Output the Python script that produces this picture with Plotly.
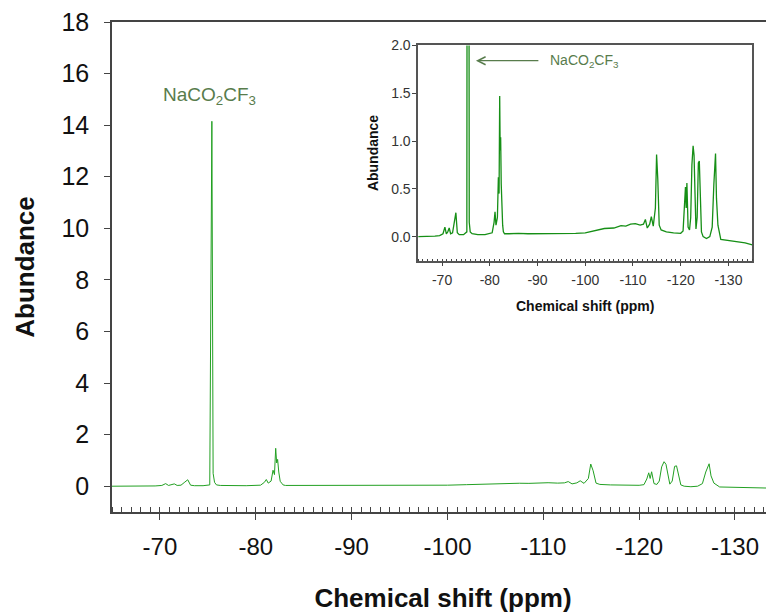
import plotly.graph_objects as go

# Chemical shift (ppm) and abundance
shift_ppm = [-65.0, -67.0, -68.5, -69.5, -70.2, -70.6, -70.9, -71.2, -71.5, -71.8,
             -72.2, -72.6, -72.9, -73.2, -73.6, -74.5, -75.2, -75.42, -75.55, -75.7,
             -75.9, -76.3, -77.5, -79.0, -80.5, -80.9, -81.1, -81.3, -81.6, -81.8,
             -81.95, -82.08, -82.18, -82.28, -82.4, -82.55, -82.7, -82.85, -83.1, -84.0,
             -86.0, -88.0, -90.0, -92.0, -94.0, -96.0, -98.0, -100.0, -102.0, -104.0,
             -106.0, -107.5, -108.5, -109.5, -110.5, -111.5, -112.2, -112.6, -113.0, -113.5,
             -113.85, -114.25, -114.7, -114.95, -115.2, -115.5, -115.9, -117.0, -118.5, -120.0,
             -120.5, -120.8, -121.0, -121.15, -121.3, -121.55, -121.85, -122.1, -122.35, -122.6,
             -122.8, -123.0, -123.2, -123.45, -123.7, -123.9, -124.1, -124.35, -124.7, -125.4,
             -126.1, -126.6, -126.95, -127.3, -127.5, -127.8, -128.4, -130.0, -132.0, -133.5,
             -135.0]
abundance = [0.0, 0.0, 0.005, 0.01, 0.03, 0.10, 0.03, 0.05, 0.09, 0.03,
             0.04, 0.16, 0.25, 0.04, 0.02, 0.02, 0.05, 14.15, 0.5, 0.15,
             0.05, 0.03, 0.02, 0.02, 0.04, 0.15, 0.26, 0.12, 0.2, 0.62,
             0.45, 1.47, 0.9, 1.04, 0.55, 0.19, 0.12, 0.05, 0.03, 0.03,
             0.035, 0.03, 0.03, 0.03, 0.03, 0.03, 0.035, 0.04, 0.06, 0.085,
             0.09, 0.115, 0.11, 0.13, 0.135, 0.12, 0.13, 0.18, 0.09, 0.13,
             0.21, 0.11, 0.3, 0.86, 0.6, 0.12, 0.07, 0.05, 0.04, 0.035,
             0.06, 0.28, 0.52, 0.3, 0.56, 0.1, 0.07, 0.2, 0.75, 0.95,
             0.85, 0.45, 0.08, 0.2, 0.77, 0.79, 0.5, 0.05, 0.0, -0.02,
             0.0, 0.1, 0.55, 0.87, 0.4, 0.12, -0.03, -0.04, -0.05, -0.065,
             -0.085]

main_y_ticks = [0, 2, 4, 6, 8, 10, 12, 14, 16, 18]
x_ticks = [-70, -80, -90, -100, -110, -120, -130]
x_tick_labels = ["-70", "-80", "-90", "-100", "-110", "-120", "-130"]
inset_y_ticks = [0.0, 0.5, 1.0, 1.5, 2.0]
inset_y_labels = ["0.0", "0.5", "1.0", "1.5", "2.0"]
label_text = "NaCO<sub>2</sub>CF<sub>3</sub>"

FONT = "Liberation Sans, Arial, sans-serif"
AXIS_COL = "#444444"
TEXT_GREEN = "#587c4c"

fig = go.Figure()
fig.add_trace(go.Scatter(x=shift_ppm, y=abundance, mode="lines",
                         line=dict(color="#22a022", width=1), showlegend=False,
                         xaxis="x", yaxis="y"))
fig.add_trace(go.Scatter(x=shift_ppm, y=abundance, mode="lines",
                         line=dict(color="#168f16", width=1.3), showlegend=False,
                         xaxis="x2", yaxis="y2"))

# The page body adds an 8px offset, so the figure is sized to fit the window.
fig.update_layout(
    width=766, height=608,
    margin=dict(l=104, r=0, t=14, b=104, autoexpand=False),
    paper_bgcolor="white", plot_bgcolor="white",
    font=dict(family=FONT, color="#111111"),
    xaxis=dict(
        domain=[0, 1], range=[-65, -134.07], automargin=False,
        tickvals=x_ticks, ticktext=x_tick_labels,
        ticks="outside", ticklen=6, tickwidth=1.2, tickcolor=AXIS_COL,
        minor=dict(dtick=1, tick0=-70, ticks="inside", ticklen=5, tickwidth=1, tickcolor=AXIS_COL, showgrid=False),
        showline=True, linecolor=AXIS_COL, linewidth=1.5, mirror=True,
        showgrid=False, zeroline=False, ticklabeloverflow="allow",
        tickfont=dict(size=24, family=FONT), ticklabelstandoff=6,
        title=dict(text="<b>Chemical shift (ppm)</b>", font=dict(size=26, family=FONT), standoff=30),
    ),
    yaxis=dict(
        domain=[0, 1], range=[-1, 18], automargin=False,
        tickvals=main_y_ticks, ticks="outside", ticklen=6, tickwidth=1.2, tickcolor=AXIS_COL,
        showline=True, linecolor=AXIS_COL, linewidth=1.5, mirror=False,
        showgrid=False, zeroline=False, ticklabeloverflow="allow",
        tickfont=dict(size=25, family=FONT), ticklabelstandoff=10,
        title=dict(text="<b>Abundance</b>", font=dict(size=26, family=FONT), standoff=19),
    ),
    xaxis2=dict(
        domain=[0.4625, 0.9672], anchor="y2", range=[-65, -135], automargin=False,
        tickvals=x_ticks, ticktext=x_tick_labels,
        ticks="outside", ticklen=4, tickwidth=1, tickcolor=AXIS_COL,
        minor=dict(dtick=1, tick0=-70, ticks="inside", ticklen=2, tickwidth=1, tickcolor=AXIS_COL, showgrid=False),
        showline=True, linecolor="#555555", linewidth=1.5, mirror=True,
        showgrid=False, zeroline=False,
        tickfont=dict(size=14, family=FONT, color="#333333"), ticklabelstandoff=2,
        title=dict(text="<b>Chemical shift (ppm)</b>", font=dict(size=14, family=FONT), standoff=14),
    ),
    yaxis2=dict(
        domain=[0.5132, 0.9522], anchor="x2", range=[-0.25, 2.0], automargin=False,
        tickvals=inset_y_ticks, ticktext=inset_y_labels,
        ticks="outside", ticklen=4, tickwidth=1, tickcolor=AXIS_COL,
        showline=True, linecolor="#555555", linewidth=1.5, mirror=True,
        showgrid=False, zeroline=False,
        tickfont=dict(size=14, family=FONT, color="#333333"), ticklabelstandoff=-1,
        title=dict(text="<b>Abundance</b>", font=dict(size=14, family=FONT), standoff=9),
    ),
    annotations=[
        dict(x=-70.15, y=15.13, xref="x", yref="y", text=label_text, showarrow=False,
             xanchor="left", yanchor="middle", font=dict(size=19, family=FONT, color=TEXT_GREEN)),
        dict(x=-92.2, y=1.84, xref="x2", yref="y2", text=label_text, showarrow=False,
             xanchor="left", yanchor="middle", font=dict(size=14, family=FONT, color=TEXT_GREEN)),
        dict(x=-77.1, y=1.84, xref="x2", yref="y2", ax=-90.5, ay=1.84, axref="x2", ayref="y2",
             text="", showarrow=True, arrowhead=5, arrowsize=1.2, arrowwidth=1.3,
             arrowcolor=TEXT_GREEN, standoff=0, startstandoff=0),
    ],
)

fig.write_html("out.html")
